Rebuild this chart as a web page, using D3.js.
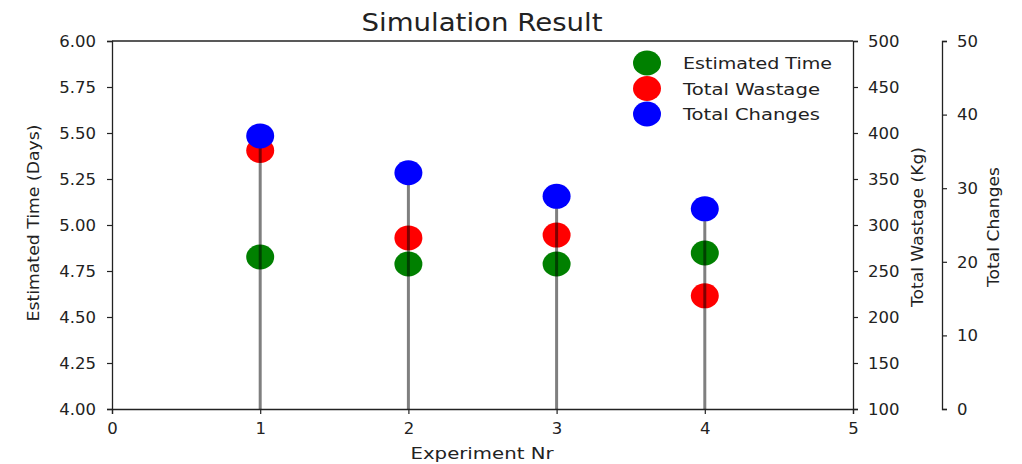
<!DOCTYPE html>
<html><head><meta charset="utf-8">
<script src="https://cdn.jsdelivr.net/npm/d3@7"></script>
<style>body{margin:0;background:#fff}svg{display:block}text{font-family:"DejaVu Sans",sans-serif;fill:#222}</style>
</head><body><svg id="c" width="1022" height="464"></svg>
<script>
const experiments = [1, 2, 3, 4];
const estimatedTime = [4.826, 4.788, 4.788, 4.848];
const totalWastage = [381, 286, 289, 223];
const totalChanges = [37.1, 32.1, 28.9, 27.2];
const xTicks = [0, 1, 2, 3, 4, 5];
const timeTicks = [4.00, 4.25, 4.50, 4.75, 5.00, 5.25, 5.50, 5.75, 6.00];
const wasteTicks = [100, 150, 200, 250, 300, 350, 400, 450, 500];
const changeTicks = [0, 10, 20, 30, 40, 50];
const legendLabels = ["Estimated Time", "Total Wastage", "Total Changes"];
const colors = ["green", "red", "blue"];

const svg = d3.select("#c");
const L = 112, R = 853, T = 41, B = 409, R2 = 942;
const x = d3.scaleLinear().domain([0, 5]).range([L, R]);
const yT = d3.scaleLinear().domain([4, 6]).range([B, T]);
const yW = d3.scaleLinear().domain([100, 500]).range([B, T]);
const yC = d3.scaleLinear().domain([0, 50]).range([B, T]);

function styleAxis(g){
  g.selectAll("path").attr("stroke","#222").attr("stroke-width",1.3);
  g.selectAll("line").attr("stroke","#222").attr("stroke-width",1.2);
  g.selectAll("text").attr("font-family","DejaVu Sans").attr("font-size",16.5).attr("fill","#222");
}
const ax = d3.axisBottom(x).tickValues(xTicks).tickFormat(d3.format("d")).tickSize(5).tickPadding(8);
svg.append("g").attr("transform",`translate(0,${B})`).call(ax).call(styleAxis);
const ayL = d3.axisLeft(yT).tickValues(timeTicks).tickFormat(d3.format(".2f")).tickSize(5).tickPadding(11);
svg.append("g").attr("transform",`translate(${L},0)`).call(ayL).call(styleAxis);
const ayR = d3.axisRight(yW).tickValues(wasteTicks).tickFormat(d3.format("d")).tickSize(5).tickPadding(10);
svg.append("g").attr("transform",`translate(${R},0)`).call(ayR).call(styleAxis);
const ayR2 = d3.axisRight(yC).tickValues(changeTicks).tickFormat(d3.format("d")).tickSize(5).tickPadding(10);
svg.append("g").attr("transform",`translate(${R2},0)`).call(ayR2).call(styleAxis);
svg.append("line").attr("x1",L).attr("x2",R).attr("y1",T).attr("y2",T).attr("stroke","#222").attr("stroke-width",1.3);

const rx = 14, ry = 12.5;
const idx = d3.range(experiments.length);
svg.append("g").selectAll("ellipse").data(idx).join("ellipse")
  .attr("cx", i=>x(experiments[i])).attr("cy", i=>yT(estimatedTime[i])).attr("rx",rx).attr("ry",ry).attr("fill",colors[0]);
svg.append("g").selectAll("ellipse").data(idx).join("ellipse")
  .attr("cx", i=>x(experiments[i])).attr("cy", i=>yW(totalWastage[i])).attr("rx",rx).attr("ry",ry).attr("fill",colors[1]);
svg.append("g").selectAll("line").data(idx).join("line")
  .attr("x1", i=>x(experiments[i])).attr("x2", i=>x(experiments[i]))
  .attr("y1", yC(0)).attr("y2", i=>yC(totalChanges[i]))
  .attr("stroke","#000").attr("stroke-opacity",0.5).attr("stroke-width",3);
svg.append("g").selectAll("ellipse").data(idx).join("ellipse")
  .attr("cx", i=>x(experiments[i])).attr("cy", i=>yC(totalChanges[i])).attr("rx",rx).attr("ry",ry).attr("fill",colors[2]);

const lg = svg.append("g");
const legendLens = [149, 137, 137];
legendLabels.forEach((t,i)=>{
  const yy = 63 + i*25.5;
  lg.append("ellipse").attr("cx",647).attr("cy",yy).attr("rx",rx).attr("ry",ry).attr("fill",colors[i]);
  lg.append("text").attr("x",683).attr("y",yy+6).attr("font-size",16.5)
    .attr("textLength",legendLens[i]).attr("lengthAdjust","spacingAndGlyphs").text(t);
});

svg.append("text").attr("x",482).attr("y",31).attr("text-anchor","middle").attr("font-size",24)
  .attr("textLength",241).attr("lengthAdjust","spacingAndGlyphs").text("Simulation Result");
svg.append("text").attr("x",482).attr("y",459).attr("text-anchor","middle").attr("font-size",16.5)
  .attr("textLength",143).attr("lengthAdjust","spacingAndGlyphs").text("Experiment Nr");
svg.append("text").attr("transform","translate(39,223) rotate(-90)").attr("text-anchor","middle").attr("font-size",16.5)
  .attr("textLength",197).attr("lengthAdjust","spacingAndGlyphs").text("Estimated Time (Days)");
svg.append("text").attr("transform","translate(923,227) rotate(-90)").attr("text-anchor","middle").attr("font-size",16.5)
  .attr("textLength",160).attr("lengthAdjust","spacingAndGlyphs").text("Total Wastage (Kg)");
svg.append("text").attr("transform","translate(999,227) rotate(-90)").attr("text-anchor","middle").attr("font-size",16.5)
  .attr("textLength",120).attr("lengthAdjust","spacingAndGlyphs").text("Total Changes");
</script></body></html>
